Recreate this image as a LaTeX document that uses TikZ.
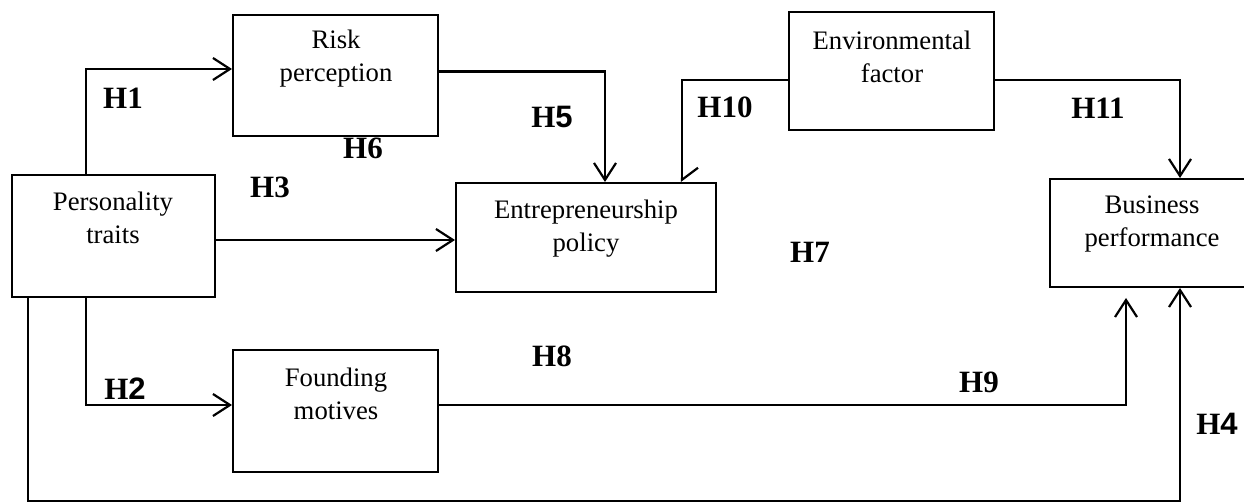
\documentclass[tikz,border=0pt]{standalone}
\usepackage{fontspec}
\setmainfont{Liberation Serif}
\newfontfamily\sansb{Liberation Sans}
\usetikzlibrary{arrows.meta}
\tikzset{
  box/.style={draw, line width=2pt, rectangle, inner sep=0pt},
  boxtext/.style={align=center, inner sep=0pt, font=\fontsize{26.7}{33}\selectfont},
  hlab/.style={inner sep=0pt, font=\fontsize{31}{35}\selectfont\bfseries},
  conn/.style={line width=2.2pt, -{Straight Barb[length=17pt,width=22pt]}},
  harp/.style={line width=2.2pt, -{Straight Barb[harpoon,length=12pt,width=32pt]}}
}
\newcommand{\sd}[1]{{\sansb\bfseries #1}}
\begin{document}
\begin{tikzpicture}[x=1pt,y=-1pt]
\useasboundingbox (0,0) rectangle (1244,502);
% boxes
\node[box, minimum width=203pt, minimum height=122pt] (pt) at (113.5,236) {};
\node[box, minimum width=205pt, minimum height=121pt] (rp) at (335.5,75.5) {};
\node[box, minimum width=260pt, minimum height=109pt] (ep) at (586,237.5) {};
\node[box, minimum width=205pt, minimum height=118pt] (ef) at (891.5,71) {};
\node[box, minimum width=200pt, minimum height=108pt] (bp) at (1150,233) {};
\node[box, minimum width=205pt, minimum height=122pt] (fm) at (335.5,411) {};
% box texts
\node[boxtext] (tpt) at (113,218) {Personality\\traits};
\node[boxtext] (trp) at (336,59) {Risk\\perception};
\node[boxtext] (tep) at (586,229) {Entrepreneurship\\policy};
\node[boxtext] (tef) at (892,56.5) {Environmental\\factor};
\node[boxtext] (tbp) at (1152,224) {Business\\performance};
\node[boxtext] (tfm) at (336,394) {Founding\\motives};
% helper coordinate
\coordinate (bot) at (600,501.5);
% connectors
\draw[conn] ([xshift=75pt]pt.north west) |- ([yshift=6.5pt]rp.west);
\draw[conn] ([xshift=75pt]pt.south west) |- ([yshift=6pt]fm.west);
\draw[conn] ([yshift=-4pt]pt.east) -- ([yshift=-4pt]pt.east -| ep.west);
\draw[conn] ([yshift=4pt]rp.east) -| ([xshift=19pt]ep.north);
\draw[harp] ([yshift=-9pt]ef.west) -| ([xshift=96pt]ep.north);
\draw[conn] ([yshift=-9pt]ef.east) -| ([xshift=30pt]bp.north);
\draw[conn] ([yshift=6pt]fm.east) -| ([xshift=-24pt,yshift=-10pt]bp.south);
\draw[conn] ([xshift=17pt]pt.south west) |- (bot) -| ([xshift=30pt]bp.south);
% labels
\node[hlab] (h1) at (123,98) {H1};
\node[hlab] (h2) at (125,389) {H\sd{2}};
\node[hlab] (h3) at (270,187) {H3};
\node[hlab] (h4) at (1217,424) {H\sd{4}};
\node[hlab] (h5) at (552,117) {H\sd{5}};
\node[hlab] (h6) at (363,148) {H6};
\node[hlab] (h7) at (810,252) {H7};
\node[hlab] (h8) at (552,356) {H8};
\node[hlab] (h9) at (979,382) {H9};
\node[hlab] (h10) at (725,107) {H10};
\node[hlab] (h11) at (1098,108) {H11};
\end{tikzpicture}
\end{document}
